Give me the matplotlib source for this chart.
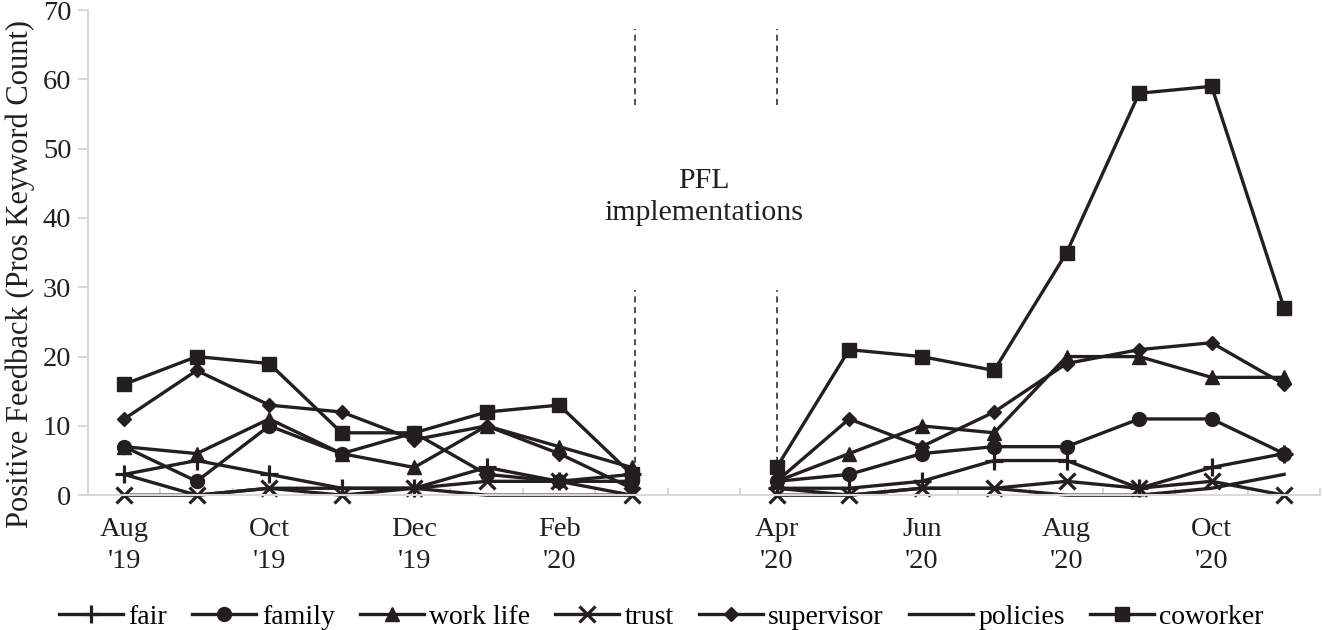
import numpy as np
import matplotlib
matplotlib.use("Agg")
import matplotlib.pyplot as plt
from matplotlib.ticker import FixedLocator

plt.rcParams['font.family'] = ['Liberation Serif', 'DejaVu Serif']

# months Aug'19 .. Mar'20, one empty slot, Apr'20 .. Nov'20
gap = np.nan
fair       = [3, 5, 3, 1, 1, 4, 2, 3, gap, 1, 1, 2, 5, 5, 1, 4, 6]
family     = [7, 2, 10, 6, 9, 3, 2, 2, gap, 2, 3, 6, 7, 7, 11, 11, 6]
work_life  = [7, 6, 11, 6, 4, 10, 7, 4, gap, 2, 6, 10, 9, 20, 20, 17, 17]
trust      = [0, 0, 1, 0, 1, 2, 2, 0, gap, 0, 0, 1, 1, 2, 1, 2, 0]
supervisor = [11, 18, 13, 12, 8, 10, 6, 1, gap, 2, 11, 7, 12, 19, 21, 22, 16]
policies   = [3, 0, 1, 1, 1, 0, 0, 0, gap, 1, 0, 1, 1, 0, 0, 1, 3]
coworker   = [16, 20, 19, 9, 9, 12, 13, 3, gap, 4, 21, 20, 18, 35, 58, 59, 27]

tick_pos = [0, 2, 4, 6, 9, 11, 13, 15]
tick_labels = ["Aug\n'19", "Oct\n'19", "Dec\n'19", "Feb\n'20",
               "Apr\n'20", "Jun\n'20", "Aug\n'20", "Oct\n'20"]

x = np.arange(len(coworker))
ink = '#231f20'
gray = '#d9d9d9'

fig = plt.figure(figsize=(13.23, 6.3), dpi=100)
ax = fig.add_axes([0.0665, 0.214, 0.9315, 0.77])

series = [
    ('fair', fair, '+', 13),
    ('family', family, 'o', 10),
    ('work life', work_life, '^', 10),
    ('trust', trust, 'x', 11),
    ('supervisor', supervisor, 'D', 7.5),
    ('policies', policies, '', 0),
    ('coworker', coworker, 's', 10),
]
for name, vals, mk, ms in series:
    ax.plot(x, vals, color=ink, lw=2.4, marker=mk if mk else None, ms=ms,
            mew=2.3 if mk in ('+', 'x') else 1, label=name, clip_on=False)

# PFL implementation markers
for xv in (7.04, 9.0):
    ax.plot([xv, xv], [0, 29.6], color=ink, lw=1.1, ls=(0, (4, 3)))
    ax.plot([xv, xv], [56.3, 67.2], color=ink, lw=1.1, ls=(0, (4, 3)))
ax.text(8.0, 43, "PFL\nimplementations", ha='center', va='center',
        fontsize=21.5, color=ink, linespacing=1.3)

ax.set_xlim(-0.5, 16.5)
ax.set_ylim(0, 70)
ax.set_yticks(range(0, 71, 10))
ax.set_xticks(tick_pos)
ax.set_xticklabels(tick_labels)
ax.xaxis.set_minor_locator(FixedLocator(np.arange(-0.5, 16.6, 1)))
ax.tick_params(axis='x', which='major', length=0, pad=16, labelsize=20.5, labelcolor=ink)
ax.tick_params(axis='x', which='minor', direction='in', length=5, color=gray, width=1.5)
ax.tick_params(axis='y', length=7, color=gray, width=1.5, pad=5, labelsize=20.5, labelcolor=ink)
for t in ax.get_xticklabels():
    t.set_linespacing(1.35)

for s in ('top', 'right'):
    ax.spines[s].set_visible(False)
for s in ('left', 'bottom'):
    ax.spines[s].set_color(gray)
    ax.spines[s].set_linewidth(1.5)

ax.set_ylabel("Positive Feedback (Pros Keyword Count)", fontsize=22, color=ink)
ax.yaxis.set_label_coords(-0.043, 0.455)

fig.legend(loc='lower center', bbox_to_anchor=(0.5, -0.04), ncol=7, frameon=False,
           fontsize=20, handlelength=2.3, handletextpad=0.2, columnspacing=0.9)

fig.savefig('out.png', dpi=100)
